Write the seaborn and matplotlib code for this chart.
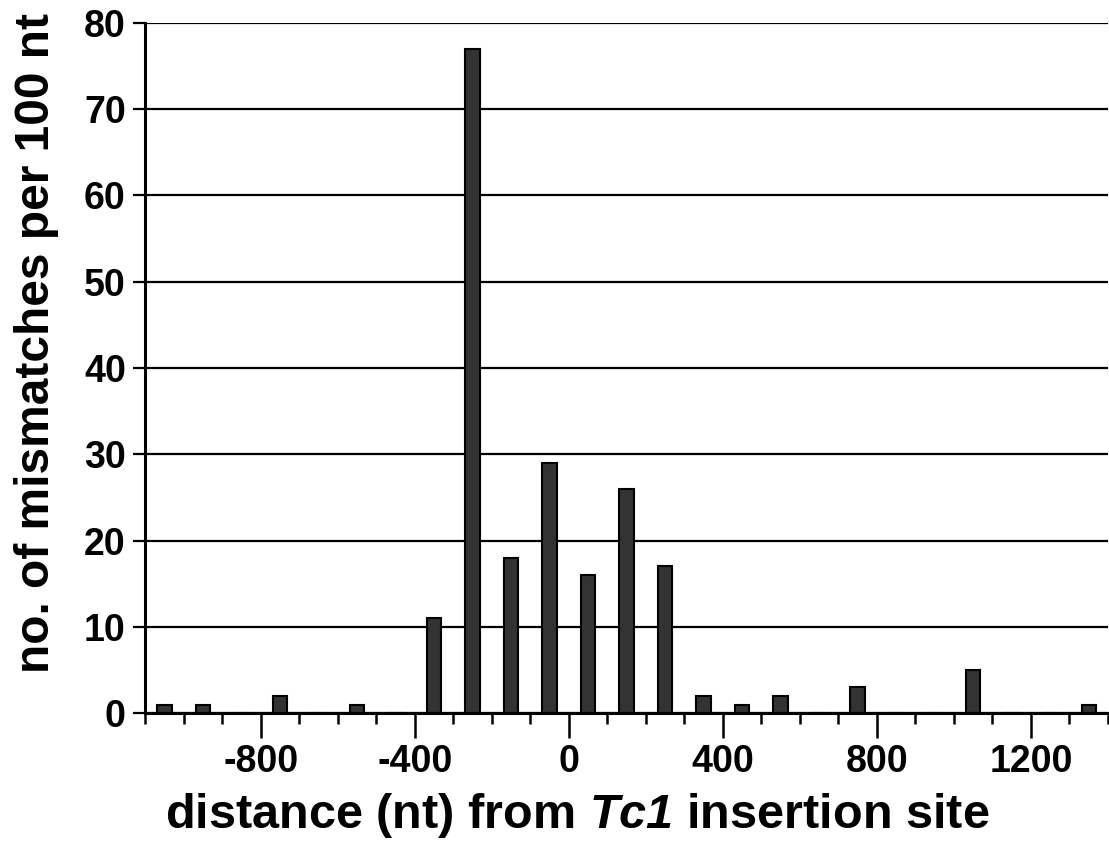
import numpy as np
import pandas as pd
import seaborn as sns
import matplotlib.pyplot as plt
from matplotlib.ticker import MultipleLocator

# bin centres (nt from insertion site) and mismatch counts per 100 nt
distance = [-1050, -950, -850, -750, -650, -550, -450, -350, -250, -150, -50,
            50, 150, 250, 350, 450, 550, 650, 750, 850, 950, 1050, 1150, 1250, 1350]
mismatches = [1, 1, 0, 2, 0, 1, 0, 11, 77, 18, 29,
              16, 26, 17, 2, 1, 2, 0, 3, 0, 0, 5, 0, 0, 1]
xtick_vals = [-800, -400, 0, 400, 800, 1200]
xtick_labels = ["-800", "-400", "0", "400", "800", "1200"]

df = pd.DataFrame({"distance": distance, "mismatches": mismatches})

sns.set_style("white")
plt.rcParams["font.family"] = ["Liberation Sans", "DejaVu Sans"]
plt.rcParams["font.weight"] = "bold"
plt.rcParams["text.color"] = "black"
plt.rcParams["axes.labelcolor"] = "black"
plt.rcParams["xtick.color"] = "black"
plt.rcParams["ytick.color"] = "black"
plt.rcParams["mathtext.fontset"] = "custom"
plt.rcParams["mathtext.it"] = "Liberation Sans:bold:italic"
plt.rcParams["mathtext.rm"] = "Liberation Sans:bold:italic"

fig = plt.figure(figsize=(11.09, 8.42), dpi=100)
ax = fig.add_axes([0.131, 0.153, 0.868, 0.820])

ax.yaxis.grid(True, color="black", linewidth=1.6)
ax.set_axisbelow(True)
sns.barplot(data=df, x="distance", y="mismatches", native_scale=True, width=0.37,
            color="#333333", saturation=1, edgecolor="black", linewidth=1.5, ax=ax)

ax.set_xlim(-1100, 1400)
ax.set_ylim(0, 80)
ax.set_yticks(np.arange(0, 81, 10))
ax.set_xticks(xtick_vals)
ax.set_xticklabels(xtick_labels)
ax.xaxis.set_minor_locator(MultipleLocator(100))

sns.despine(ax=ax, top=True, right=True)
for s in ["left", "bottom"]:
    ax.spines[s].set_linewidth(2.2)
    ax.spines[s].set_color("black")

ax.tick_params(axis="y", which="major", direction="out", length=9, width=1.6,
               labelsize=27, left=True, pad=5)
ax.tick_params(axis="x", which="major", direction="out", length=18, width=1.8,
               labelsize=27, bottom=True, pad=4)
ax.tick_params(axis="x", which="minor", direction="out", length=8, width=1.8, bottom=True)
for lab in ax.get_xticklabels() + ax.get_yticklabels():
    lab.set_fontweight("bold")

ax.set_xlabel(r"distance (nt) from $\mathit{Tc1}$ insertion site", fontsize=35,
              fontweight="bold")
ax.xaxis.set_label_coords(0.449, -0.113)
ax.set_ylabel("no. of mismatches per 100 nt", fontsize=34.5, fontweight="bold")
ax.yaxis.set_label_coords(-0.09, 0.536)

plt.savefig("out.png", dpi=100)
